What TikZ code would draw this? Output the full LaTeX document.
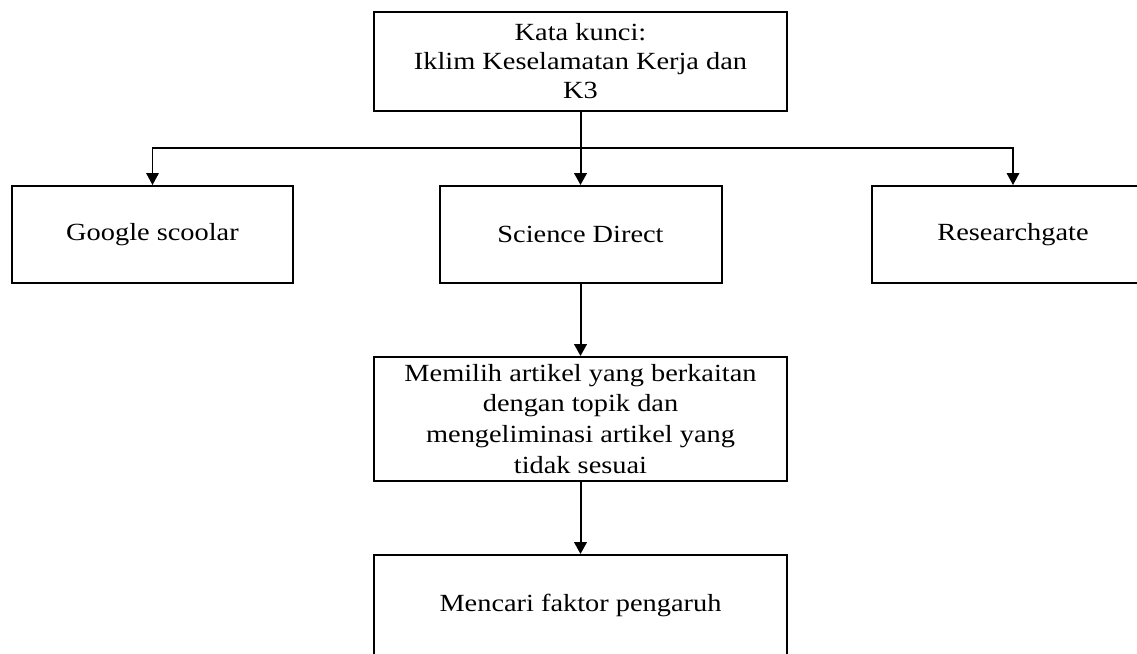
\documentclass[tikz,border=0pt]{standalone}
\usepackage{fontspec}
\setmainfont[FakeStretch=1.15]{Liberation Serif}
\usetikzlibrary{arrows.meta}
\tikzset{
  box/.style={draw=black, line width=1.5pt, rectangle, inner sep=0pt, align=center,
    font=\fontsize{18.5}{23.2}\selectfont},
  conn/.style={draw=black, line width=0.9pt},
  arr/.style={conn, -{Triangle[length=9pt,width=9.5pt]}},
  thickarr/.style={arr, line width=1.5pt}
}
\begin{document}
\begin{tikzpicture}[x=0.75pt, y=-0.75pt]
\useasboundingbox (0,0) rectangle (1137,653);
\clip (0,0) rectangle (1137,653);
\node[box, minimum width=309.75pt, minimum height=74.25pt, font=\fontsize{18.5}{21.75}\selectfont] (top) at (580.5,61.5)
  {Kata kunci:\\Iklim Keselamatan Kerja dan\\K3};
\node[box, minimum width=210.75pt, minimum height=72.75pt] (google) at (152.5,234.5) {Google scoolar};
\node[box, minimum width=211.5pt, minimum height=72.75pt] (science) at (580.5,234.5) {Science Direct};
\node[box, minimum width=211.5pt, minimum height=72.75pt] (research) at (1013,234.5) {Researchgate};
\node[box, minimum width=309.75pt, minimum height=93pt] (memilih) at (580.5,419)
  {Memilih artikel yang berkaitan\\dengan topik dan\\mengeliminasi artikel yang\\tidak sesuai};
\node[box, minimum width=309.75pt, minimum height=75pt] (mencari) at (580.5,605) {Mencari faktor pengaruh};
\coordinate (bus) at (580.5,148);
\draw[thickarr] (top.south) -- (science.north);
\draw[arr] (bus) -| (google.north);
\draw[arr] (bus) -| (research.north);
\draw[thickarr] (science.south) -- (memilih.north);
\draw[thickarr] (memilih.south) -- (mencari.north);
\end{tikzpicture}
\end{document}
